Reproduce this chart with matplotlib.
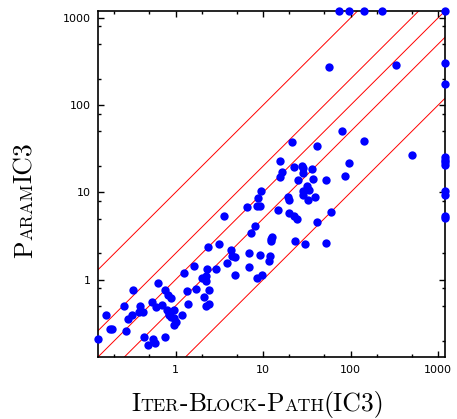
import numpy as np
import matplotlib
matplotlib.use("Agg")
import matplotlib.pyplot as plt
from matplotlib import ticker
from matplotlib.transforms import IdentityTransform

# time limit (s): runs that timed out sit on the border
TIMEOUT = 1200

# runtime of Iter-Block-Path(IC3), x axis
iter_block_path = [
    0.13, 0.16, 0.18, 0.19, 0.26, 0.27, 0.33, 0.29, 0.32, 0.39,
    0.38, 0.42, 0.44, 0.49, 0.55, 0.59, 0.54, 0.63, 0.60, 0.70,
    0.75, 0.75, 0.82, 0.89, 0.80, 0.85, 0.84, 0.88, 0.95, 0.97,
    1.02, 0.97, 1.19, 1.24, 1.35, 1.38, 1.62, 1.73, 2.00, 2.21,
    2.25, 2.11, 2.21, 2.41, 2.41, 2.35, 2.31, 2.93, 3.14, 3.92,
    4.35, 4.47, 4.75, 4.84, 6.88, 6.88, 8.49, 9.19, 9.77, 12.0,
    11.7, 12.4, 23.2, 30.4, 52.9, 12.5, 12.3,
    79.5, 21.2, 41.1, 142, 505, 15.6, 22.5, 27.6, 28.8, 36.6,
    97.0, 16.6, 15.6, 28.8, 25.3, 37.6, 52.5, 87.4, 31.5, 33.8,
    28.4, 28.8, 39.3, 32.6, 9.36, 8.8, 19.4, 19.9, 6.64, 8.56,
    9.2, 14.9, 19.9, 22.7, 24.6, 3.55, 8.05, 7.24, 41.1, 60.4,
    57.3, 327,
    73.4, 97.1, 143, 228, TIMEOUT,
    TIMEOUT, TIMEOUT, TIMEOUT, TIMEOUT, TIMEOUT, TIMEOUT, TIMEOUT,
    TIMEOUT, TIMEOUT, TIMEOUT,
]

# runtime of ParamIC3, y axis
param_ic3 = [
    0.21, 0.39, 0.27, 0.27, 0.50, 0.26, 0.77, 0.35, 0.39, 0.50,
    0.43, 0.43, 0.22, 0.18, 0.21, 0.19, 0.55, 0.91, 0.49, 0.51,
    0.77, 0.22, 0.66, 0.61, 0.45, 0.39, 0.41, 0.37, 0.45, 0.36,
    0.33, 0.30, 0.39, 1.20, 0.74, 0.52, 1.43, 0.79, 1.04, 0.96,
    1.09, 0.64, 0.50, 0.53, 0.77, 2.36, 1.32, 1.32, 2.58, 1.56,
    2.20, 1.85, 1.81, 1.14, 2.04, 1.39, 1.04, 1.93, 1.14, 1.85,
    1.62, 2.76, 2.81, 2.58, 2.65, 3.07, 2.94,
    50.0, 37.4, 34.3, 39.1, 27.0, 22.7, 19.7, 20.2, 19.0, 18.4,
    21.5, 17.3, 15.2, 16.5, 13.9, 14.3, 13.9, 15.3, 12.0, 10.8,
    10.3, 9.4, 8.8, 8.1, 10.5, 8.65, 8.8, 8.1, 6.76, 7.06,
    6.9, 6.3, 5.8, 5.3, 5.0, 5.33, 4.17, 3.41, 4.55, 6.0,
    274, 289,
    TIMEOUT, TIMEOUT, TIMEOUT, TIMEOUT, TIMEOUT,
    307, 177, 25.7, 23.5, 22.1, 20.8, 10.5, 9.44,
    5.43, 5.11,
]

# reference lines y = k * x
ratios = [10, 2, 1, 0.5, 0.1]
lims = [0.13, TIMEOUT]

x_ticks = [1, 10, 100, 1000]
y_ticks = [1, 10, 100, 1000]

# axis titles, small caps done by hand: (text, is_capital)
x_title = [("I", 1), ("TER", 0), ("-", 1), ("B", 1), ("LOCK", 0), ("-", 1),
           ("P", 1), ("ATH", 0), ("(IC3)", 1)]
y_title = [("P", 1), ("ARAM", 0), ("IC3", 1)]

LABEL_FONT = ["cmr10", "DejaVu Serif"]
BIG, SMALL = 18.5, 13.0

fig = plt.figure(figsize=(4.57, 4.19), dpi=100)
ax = fig.add_axes([98 / 457, 62 / 419, 347 / 457, 346 / 419])

xs = np.array(lims)
for k in ratios:
    ax.plot(xs, k * xs, color="red", lw=0.7, zorder=1)

ax.plot(iter_block_path, param_ic3, "o", color="#0000ff", ms=6,
        mec="none", clip_on=False, zorder=3)

ax.set_xscale("log")
ax.set_yscale("log")
ax.set_xlim(lims)
ax.set_ylim(lims)

fmt = ticker.FuncFormatter(lambda v, _: f"{v:g}")
ax.xaxis.set_major_locator(ticker.FixedLocator(x_ticks))
ax.yaxis.set_major_locator(ticker.FixedLocator(y_ticks))
ax.xaxis.set_major_formatter(fmt)
ax.yaxis.set_major_formatter(fmt)
ax.xaxis.set_minor_locator(ticker.LogLocator(base=10, subs=(2, 5)))
ax.yaxis.set_minor_locator(ticker.LogLocator(base=10, subs=(2, 5, 8)))
ax.xaxis.set_minor_formatter(ticker.NullFormatter())
ax.yaxis.set_minor_formatter(ticker.NullFormatter())

ax.tick_params(which="both", direction="in", top=True, right=True,
               labelsize=8, pad=5.5, width=1)
ax.tick_params(which="major", length=4.3)
ax.tick_params(which="minor", length=2.2)
for sp in ax.spines.values():
    sp.set_linewidth(1.2)


def draw_title(parts, center, base, vertical=False):
    """fake small caps: pieces of different size laid next to each other"""
    renderer = fig.canvas.get_renderer()
    widths = []
    for s, cap in parts:
        t = fig.text(0, 0, s, fontsize=BIG if cap else SMALL,
                     family=LABEL_FONT, transform=IdentityTransform())
        widths.append(t.get_window_extent(renderer).width)
        t.remove()
    pos = center - sum(widths) / 2
    for (s, cap), w in zip(parts, widths):
        kw = dict(fontsize=BIG if cap else SMALL, family=LABEL_FONT,
                  transform=IdentityTransform(), ha="left", va="baseline")
        if vertical:
            fig.text(base, pos, s, rotation=90, rotation_mode="anchor", **kw)
        else:
            fig.text(pos, base, s, **kw)
        pos += w


# pixel positions (origin bottom left)
draw_title(x_title, 258, 419 - 411)
draw_title(y_title, 419 - 200, 32, vertical=True)

fig.savefig("out.png", dpi=100)
